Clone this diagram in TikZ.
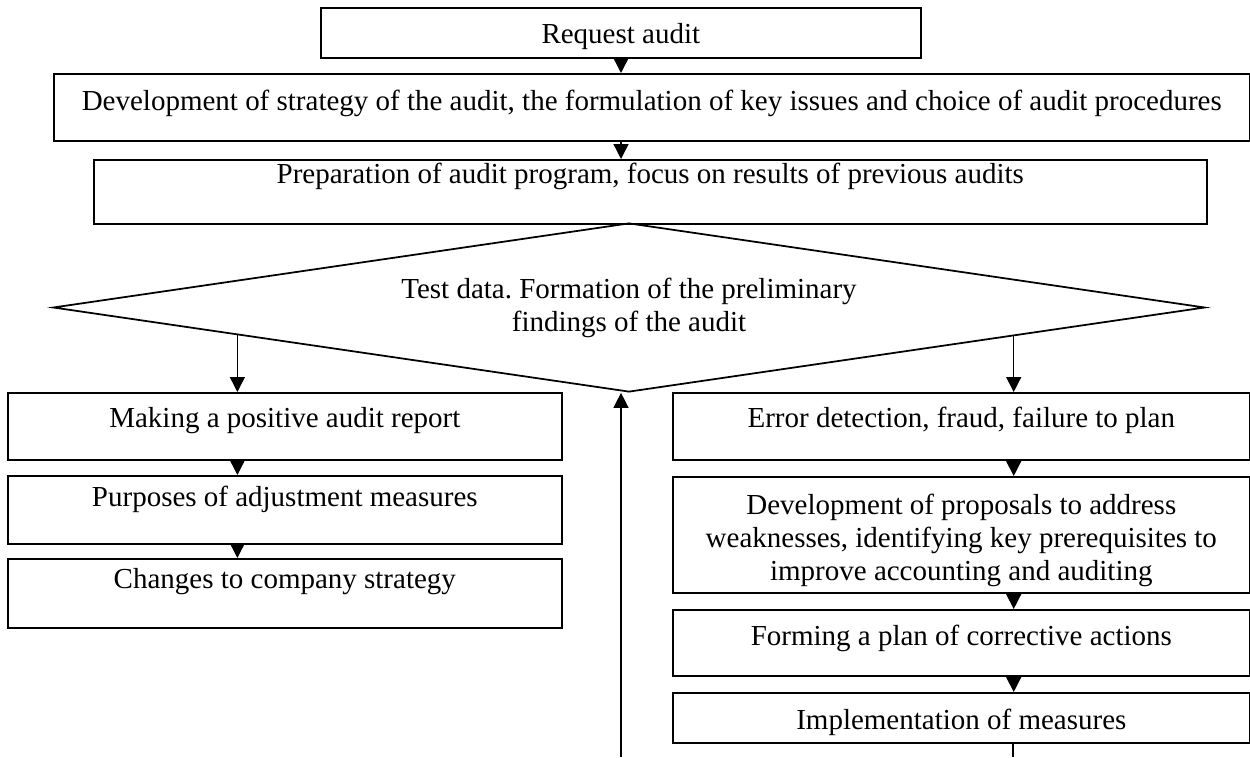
\documentclass[tikz,border=0pt]{standalone}
\usepackage{fontspec}
\setmainfont{Liberation Serif}
\usetikzlibrary{positioning,arrows.meta,shapes.geometric,calc}
\frenchspacing

\begin{document}
\begin{tikzpicture}[
        x=0.02cm, y=-0.02cm,
        font=\fontsize{16.5}{18.8}\selectfont,
        block/.style={rectangle, draw, line width=1pt, inner sep=0pt,
            anchor=north west, align=center},
        decision/.style={diamond, draw, line width=1pt, inner sep=0pt,
            shape aspect=6.8, align=center},
        line/.style={draw, -{Triangle[length=0.3cm, width=0.3cm]}, line width=0.8pt}
    ]
    \useasboundingbox (0,0) rectangle (1250,757);

    \node [block, minimum width=12cm, text height=0.72cm, text depth=0.28cm] (req) at (320,7) {Request audit};
    \node [block, minimum width=23.92cm, text height=0.74cm, text depth=0.6cm] (dev) at (53,73) {Development of strategy of the audit, the formulation of key issues and choice of audit procedures};
    \node [block, minimum width=22.26cm, text height=0.48cm, text depth=0.8cm] (prep) at (93,159) {Preparation of audit program, focus on results of previous audits};
    \node [decision, minimum width=23.04cm, minimum height=3.38cm] (test) at (629,307.5) {Test data. Formation of the preliminary\\findings of the audit};

    % left branch
    \node [block, minimum width=11.08cm, text height=0.7cm, text depth=0.64cm] (report) at (7,392) {Making a positive audit report};
    \node [block, minimum width=11.08cm, text height=0.62cm, text depth=0.74cm] (adjust) at (7,475) {Purposes of adjustment measures};
    \node [block, minimum width=11.08cm, text height=0.6cm, text depth=0.78cm] (change) at (7,558) {Changes to company strategy};

    % right branch
    \node [block, minimum width=11.54cm, text height=0.7cm, text depth=0.64cm] (error) at (672,392) {Error detection, fraud, failure to plan};
    \node [block, minimum width=11.54cm, text width=11.54cm, align=flush center, text height=0.76cm, text depth=1.56cm] (propose) at (672,476) {Development of proposals to address\\weaknesses, identifying key prerequisites to\\improve accounting and auditing};
    \node [block, minimum width=11.54cm, text height=0.72cm, text depth=0.6cm] (plan) at (672,609) {Forming a plan of corrective actions};
    \node [block, minimum width=11.54cm, text height=0.74cm, text depth=0.26cm] (implement) at (672,692) {Implementation of measures};

    \coordinate (midx) at (621,0);
    \coordinate (leftx) at ($(test.west)!0.321!(test.south)$);
    \coordinate (rightx) at ($(test.south)!0.667!(test.east)$);
    \coordinate (backr) at (1013,757);
    \coordinate (backl) at (621,757);

    \path [line] (req.south -| midx) -- (dev.north -| midx);
    \path [line] (dev.south -| midx) -- (prep.north -| midx);
    \path [line] (leftx) -- (leftx |- report.north);
    \path [line] (rightx) -- (rightx |- error.north);

    \path [line] (report.south -| leftx) -- (adjust.north -| leftx);
    \path [line] (adjust.south -| leftx) -- (change.north -| leftx);

    \path [line] (error.south -| rightx) -- (propose.north -| rightx);
    \path [line] (propose.south -| rightx) -- (plan.north -| rightx);
    \path [line] (plan.south -| rightx) -- (implement.north -| rightx);

    % feedback
    \path [draw, line width=0.8pt] (implement.south -| backr) -- (backr);
    \path [line] (backl) -- (backl |- test.south);
\end{tikzpicture}
\end{document}
